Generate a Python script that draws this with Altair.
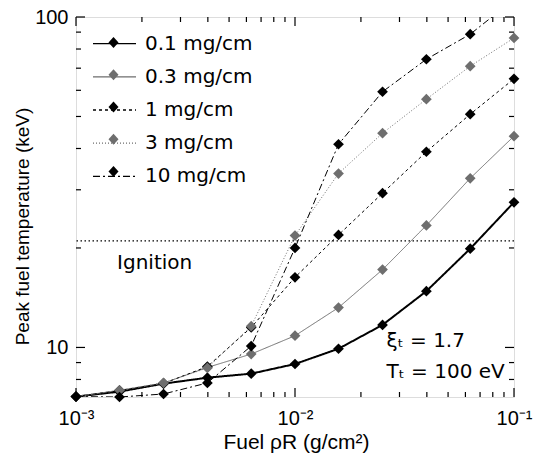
import altair as alt
import pandas as pd

# ---------------- data ----------------
rho = [0.001, 0.00158, 0.00251, 0.00398, 0.00631, 0.01, 0.0158, 0.0251, 0.0398, 0.0631, 0.1]
series = ["0.1 mg/cm", "0.3 mg/cm", "1 mg/cm", "3 mg/cm", "10 mg/cm"]
t_01 = [7.10, 7.35, 7.77, 8.10, 8.33, 8.91, 9.91, 11.7, 14.8, 19.9, 27.5]
t_03 = [7.10, 7.42, 7.80, 8.70, 9.55, 10.85, 13.2, 17.2, 23.4, 32.5, 43.6]
t_1 = [7.10, 7.40, 7.78, 8.75, 11.5, 16.3, 21.9, 29.3, 39.1, 50.8, 65.0]
t_3 = [7.10, 7.42, 7.81, 8.67, 11.6, 21.8, 33.6, 44.5, 56.4, 71.0, 86.4]
t_10 = [7.10, 7.08, 7.23, 7.81, 10.1, 20.0, 41.2, 59.4, 74.5, 88.7, 113.0]
ignition = [21.0]

x_major = [0.001, 0.01, 0.1]
x_minor = [0.002, 0.003, 0.004, 0.005, 0.006, 0.007, 0.008, 0.009,
           0.02, 0.03, 0.04, 0.05, 0.06, 0.07, 0.08, 0.09]
y_major = [10, 100]
y_minor = [8, 9, 20, 30, 40, 50, 60, 70, 80, 90]

notes_x = [0.00154, 0.0262, 0.0262]
notes_y = [18.0, 10.47, 8.41]
notes_text = ["Ignition", "ξₜ = 1.7", "Tₜ = 100 eV"]

# ---------------- styles ----------------
colors = ["#000000", "#6e6e6e", "#000000", "#6e6e6e", "#000000"]
dashes = [[1, 0], [1, 0], [3, 3], [1, 2], [7, 3, 2, 3]]
FONT = "DejaVu Sans"
W, H = 438, 380

# marker keys differ (trailing space) so the diamond legend stays separate
markers = [s + " " for s in series]

rows = []
for i, (s, vals) in enumerate(zip(series, [t_01, t_03, t_1, t_3, t_10])):
    for r, t in zip(rho, vals):
        rows.append({"series": s, "marker": markers[i], "idx": i, "rho": r, "T": t,
                     "sw": 2.0 if i == 0 else 1.0})
df = pd.DataFrame(rows)

xscale = alt.Scale(type="log", domain=[1e-3, 1e-1], nice=False)
yscale = alt.Scale(type="log", domain=[7.08, 100], nice=False)

xaxis = alt.Axis(values=x_major, tickSize=0, domain=False, grid=False,
                 labelExpr="datum.value < 0.003 ? '10⁻³' : (datum.value < 0.03 ? '10⁻²' : '10⁻¹')",
                 labelFontSize=20, labelPadding=11, labelFlush=False, labelOverlap=False,
                 labelColor="black",
                 title="Fuel ρR (g/cm²)", titleFontSize=21, titleFontWeight="normal",
                 titleX=220, titleY=45, titleBaseline="middle", titleAlign="center",
                 titleColor="black")
yaxis = alt.Axis(values=y_major, tickSize=0, domain=False, grid=False,
                 labelExpr="datum.value >= 100 ? '100' : '10'",
                 labelFontSize=20, labelPadding=8, labelFlush=False, labelOverlap=False,
                 labelColor="black",
                 title="Peak fuel temperature (keV)", titleFontSize=19, titleFontWeight="normal",
                 titleX=-54, titleY=209, titleAngle=-90, titleBaseline="middle", titleAlign="center",
                 titleColor="black")

X = alt.X("rho:Q", scale=xscale, axis=xaxis, title="Fuel ρR (g/cm²)")
Y = alt.Y("T:Q", scale=yscale, axis=yaxis, title="Peak fuel temperature (keV)")

LEG = dict(orient="none", legendX=27.5, legendY=15.6, title=None, padding=0,
           symbolSize=400, labelFontSize=20, labelFont=FONT, labelOffset=19.5,
           rowPadding=12.2)

line_legend = alt.Legend(symbolType="M-2.15,0L2.15,0", symbolStrokeWidth=1.3,
                         symbolFillColor="transparent", labelColor="black", **LEG)
point_legend = alt.Legend(symbolType="M0,-0.55L0.5,0L0,0.55L-0.5,0Z", symbolStrokeWidth=0,
                          labelExpr="''", labelColor="black", **LEG)

lines = alt.Chart(df).mark_line(clip=True).encode(
    x=X, y=Y,
    stroke=alt.Stroke("series:N", scale=alt.Scale(domain=series, range=colors), legend=line_legend, sort=series),
    strokeDash=alt.StrokeDash("series:N", scale=alt.Scale(domain=series, range=dashes), legend=line_legend, sort=series),
    strokeWidth=alt.StrokeWidth("sw:Q", scale=None),
)

points = alt.Chart(df).transform_filter("datum.T <= 100").mark_point(
    shape="diamond", filled=True, size=115, opacity=1, strokeWidth=0
).encode(
    x=X, y=Y,
    fill=alt.Fill("marker:N", scale=alt.Scale(domain=markers, range=colors), legend=point_legend, sort=markers),
    order=alt.Order("idx:Q"),
)

ign = alt.Chart(pd.DataFrame({"T": ignition})).mark_rule(
    color="black", strokeWidth=1.2, strokeDash=[1.5, 2.5]
).encode(y=Y)

notes = alt.Chart(pd.DataFrame({"rho": notes_x, "T": notes_y, "text": notes_text})).mark_text(
    align="left", baseline="middle", fontSize=20, font=FONT, color="black"
).encode(x=X, y=Y, text="text:N")


def xticks(vals, length):
    d = pd.DataFrame({"rho": vals})
    base = alt.Chart(d).mark_rule(color="black", strokeWidth=1.2)
    return [base.encode(x=X, y=alt.value(H), y2=alt.value(H - length)),
            base.encode(x=X, y=alt.value(0), y2=alt.value(length))]


def yticks(vals, length):
    d = pd.DataFrame({"T": vals})
    base = alt.Chart(d).mark_rule(color="black", strokeWidth=1.2)
    return [base.encode(y=Y, x=alt.value(0), x2=alt.value(length)),
            base.encode(y=Y, x=alt.value(W), x2=alt.value(W - length))]


tick_layers = xticks(x_minor, 5) + xticks(x_major, 9) + yticks(y_minor, 5) + yticks(y_major, 9)

chart = alt.layer(lines, points, ign, notes, *tick_layers).properties(
    width=W, height=H,
    autosize=alt.AutoSizeParams(type="none"),
    padding={"left": 76, "top": 17, "right": 25, "bottom": 65},
).configure_view(
    stroke="black", strokeWidth=2
).configure_axis(
    labelFont=FONT, titleFont=FONT
).configure(background="white")

chart.save("out.html", embed_options={"renderer": "svg", "actions": False})
